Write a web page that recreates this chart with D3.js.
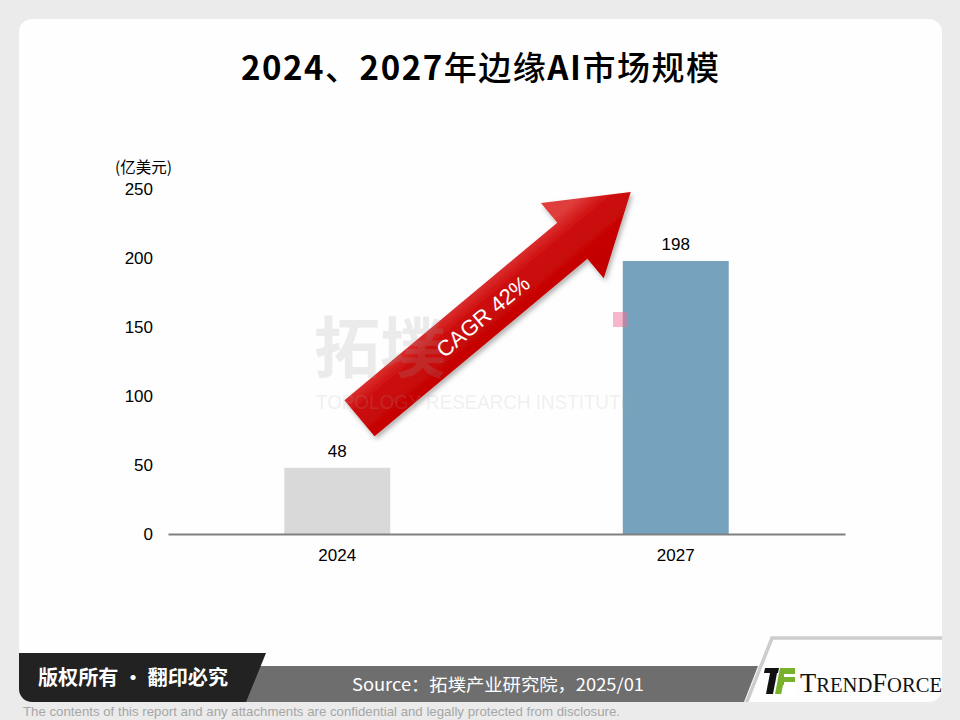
<!DOCTYPE html>
<html>
<head>
<meta charset="utf-8">
<script src="https://cdn.jsdelivr.net/npm/d3@7/dist/d3.min.js"></script>
<style>
  html, body { margin: 0; padding: 0; background: #ebebeb; }
  svg { display: block; }
</style>
</head>
<body>
<svg id="chart" width="960" height="720"></svg>
<script>
// ---- data ----
const years = ["2024", "2027"];
const marketSize = [48, 198];          // 亿美元
const barColors = ["#d9d9d9", "#76a2bd"];
const yTicks = [0, 50, 100, 150, 200, 250];
const unitLabel = "(亿美元)";
const cagrLabel = "CAGR 42%";
const titleParts = [
  { t: "2024", latin: true }, { t: "、", latin: false },
  { t: "2027", latin: true }, { t: "年边缘", latin: false },
  { t: "AI", latin: true }, { t: "市场规模", latin: false }
];
const copyrightText = "版权所有 · 翻印必究";
const sourceText = "Source：拓墣产业研究院，2025/01";
const disclaimer = "The contents of this report and any attachments are confidential and legally protected from disclosure.";

const svg = d3.select("#chart");
const W = 960, H = 720;
const SANS = "'Liberation Sans', Arial, sans-serif";
const CJK = "'Noto Sans CJK SC', 'Noto Sans', sans-serif";

const defs = svg.append("defs");

// card
const card = { x: 19, y: 19, w: 923, h: 683, r: 13 };
svg.append("rect").attr("width", W).attr("height", H).attr("fill", "#ebebeb");
defs.append("clipPath").attr("id", "cardClip")
  .append("rect").attr("x", card.x).attr("y", card.y)
  .attr("width", card.w).attr("height", card.h).attr("rx", card.r);
svg.append("rect").attr("x", card.x).attr("y", card.y)
  .attr("width", card.w).attr("height", card.h).attr("rx", card.r)
  .attr("fill", "#fefefe");

// title
const title = svg.append("text")
  .attr("x", 480).attr("y", 80)
  .attr("text-anchor", "middle")
  .attr("font-family", CJK)
  .attr("font-size", 33)
  .attr("fill", "#000")
  .attr("textLength", 478).attr("lengthAdjust", "spacing");
title.selectAll("tspan").data(titleParts).join("tspan")
  .attr("font-weight", d => d.latin ? 700 : 500)
  .text(d => d.t);

// scales
const x = d3.scaleBand().domain(years).range([168, 845])
  .paddingInner(0.687).paddingOuter(0.687 / 2);
const y = d3.scaleLinear().domain([0, 250]).range([534, 189.3]);

// bars
const g = svg.append("g");
g.selectAll("rect.bar").data(years).join("rect")
  .attr("class", "bar")
  .attr("x", d => x(d))
  .attr("width", x.bandwidth())
  .attr("y", (d, i) => y(marketSize[i]))
  .attr("height", (d, i) => y(0) - y(marketSize[i]))
  .attr("fill", (d, i) => barColors[i]);

// value labels
g.selectAll("text.val").data(years).join("text")
  .attr("class", "val")
  .attr("x", d => x(d) + x.bandwidth() / 2)
  .attr("y", (d, i) => y(marketSize[i]) - 11)
  .attr("text-anchor", "middle")
  .attr("font-family", SANS).attr("font-size", 17).attr("fill", "#000")
  .text((d, i) => marketSize[i]);

// y axis (labels only)
const yAxis = d3.axisLeft(y).tickValues(yTicks).tickSize(0).tickPadding(0);
const yg = svg.append("g").attr("transform", "translate(153,0)").call(yAxis);
yg.select(".domain").remove();
yg.selectAll("text").attr("font-family", SANS).attr("font-size", 17).attr("fill", "#000");

svg.append("text").attr("x", 115).attr("y", 173)
  .attr("font-family", CJK).attr("font-size", 15.5).attr("fill", "#000")
  .text(unitLabel);

// x axis
const xAxis = d3.axisBottom(x).tickSize(0).tickPadding(15);
const xg = svg.append("g").attr("transform", `translate(0,${y(0)})`).call(xAxis);
xg.select(".domain").attr("stroke", "#808080").attr("stroke-width", 2);
xg.selectAll("text").attr("font-family", SANS).attr("font-size", 17).attr("fill", "#000");

// ---- CAGR arrow ----
const tail = [x("2024") + x.bandwidth() * 0.71, y(84)];
const tip = [x("2027") + x.bandwidth() * 0.075, y(248)];
const dx = tip[0] - tail[0], dy = tip[1] - tail[1];
const len = Math.hypot(dx, dy);
const u = [dx / len, dy / len];
const n = [-u[1], u[0]];
const shaftHalf = 23.5, headHalf = 49, headLen = 76;
const at = (t, s) => [tail[0] + u[0] * t + n[0] * s, tail[1] + u[1] * t + n[1] * s];
const arrowPts = [
  at(0, -shaftHalf), at(len - headLen, -shaftHalf), at(len - headLen, -headHalf),
  at(len, 0),
  at(len - headLen, headHalf), at(len - headLen, shaftHalf), at(0, shaftHalf)
];
// n points toward the lower-right edge; gradient runs across the shaft
const gA = at(len / 2, -headHalf), gB = at(len / 2, headHalf);
const grad = defs.append("linearGradient").attr("id", "arrowGrad")
  .attr("gradientUnits", "userSpaceOnUse")
  .attr("x1", gA[0]).attr("y1", gA[1]).attr("x2", gB[0]).attr("y2", gB[1]);
grad.append("stop").attr("offset", 0.2).attr("stop-color", "#e03c3c");
grad.append("stop").attr("offset", 0.42).attr("stop-color", "#cc0a0a");
grad.append("stop").attr("offset", 1).attr("stop-color", "#bf0000");
const shadow = defs.append("filter").attr("id", "arrowShadow")
  .attr("x", "-20%").attr("y", "-20%").attr("width", "140%").attr("height", "140%");
shadow.append("feDropShadow").attr("dx", 2).attr("dy", 3)
  .attr("stdDeviation", 2.5).attr("flood-color", "#000").attr("flood-opacity", 0.3);

svg.append("polygon")
  .attr("points", arrowPts.map(p => p.join(",")).join(" "))
  .attr("fill", "url(#arrowGrad)")
  .attr("filter", "url(#arrowShadow)");
const lblPos = at(160, 1);
const ang = Math.atan2(dy, dx) * 180 / Math.PI;
svg.append("text")
  .attr("transform", `translate(${lblPos[0]},${lblPos[1]}) rotate(${ang})`)
  .attr("text-anchor", "middle").attr("dominant-baseline", "central")
  .attr("font-family", SANS).attr("font-size", 22).attr("fill", "#fff")
  .text(cagrLabel);

// ---- watermark ----
const wm = svg.append("g").attr("pointer-events", "none");
wm.append("text").attr("x", 314).attr("y", 372)
  .attr("font-family", CJK).attr("font-weight", 700).attr("font-size", 66)
  .attr("fill", "#9c9c9c").attr("opacity", 0.19)
  .text("拓墣");
wm.append("text").attr("x", 316).attr("y", 409)
  .attr("font-family", SANS).attr("font-size", 21)
  .attr("textLength", 317).attr("lengthAdjust", "spacingAndGlyphs")
  .attr("fill", "#a8a8a8").attr("opacity", 0.16)
  .text("TOPOLOGY RESEARCH INSTITUTE");
wm.append("rect").attr("x", 613).attr("y", 312).attr("width", 15).attr("height", 15)
  .attr("fill", "#f06d96").attr("opacity", 0.5);

// ---- footer ----
const foot = svg.append("g").attr("clip-path", "url(#cardClip)");
const poly = pts => pts.map(p => p.join(",")).join(" ");
// grey source band
foot.append("polygon")
  .attr("points", poly([[200, 666], [758, 666], [744, 702], [200, 702]]))
  .attr("fill", "#6e6e6e");
// dark copyright band
foot.append("polygon")
  .attr("points", poly([[card.x, 653], [266, 653], [246, 702], [card.x, 702]]))
  .attr("fill", "#222222");
// logo panel border
foot.append("polyline")
  .attr("points", poly([[746, 704], [772, 638], [945, 638]]))
  .attr("fill", "none").attr("stroke", "#cdcdcd").attr("stroke-width", 3.5);

foot.append("text").attr("x", 38).attr("y", 685)
  .attr("font-family", CJK).attr("font-weight", 700).attr("font-size", 20)
  .attr("textLength", 190).attr("lengthAdjust", "spacingAndGlyphs")
  .attr("fill", "#fff").text(copyrightText);
foot.append("text").attr("x", 352).attr("y", 691)
  .attr("font-family", CJK).attr("font-size", 17)
  .attr("textLength", 292).attr("lengthAdjust", "spacingAndGlyphs")
  .attr("fill", "#fff").text(sourceText);

// TrendForce logo mark
const logo = svg.append("g");
logo.append("polygon").attr("points", poly([[765, 668], [779, 668], [778, 673], [764, 673]])).attr("fill", "#111");
logo.append("polygon").attr("points", poly([[770, 673], [777, 673], [773, 694], [766, 694]])).attr("fill", "#111");
logo.append("polygon").attr("points", poly([[780, 668], [795, 668], [795, 694], [775, 694]])).attr("fill", "#77b22a");
logo.append("rect").attr("x", 784).attr("y", 674).attr("width", 12).attr("height", 3).attr("fill", "#fff");
logo.append("rect").attr("x", 784).attr("y", 682).attr("width", 12).attr("height", 3).attr("fill", "#fff");
logo.append("polygon").attr("points", poly([[783, 685], [796, 685], [796, 695], [781, 695]])).attr("fill", "#fff");

const tf = logo.append("text").attr("x", 800).attr("y", 692)
  .attr("font-family", "'Liberation Serif', 'DejaVu Serif', serif")
  .attr("fill", "#111")
  .attr("textLength", 142).attr("lengthAdjust", "spacingAndGlyphs");
[["T", 27], ["REND", 21], ["F", 27], ["ORCE", 21]].forEach(([s, fs]) =>
  tf.append("tspan").attr("font-size", fs).text(s));

// disclaimer
svg.append("text").attr("x", 23).attr("y", 716)
  .attr("font-family", "'Liberation Sans Narrow', 'Liberation Sans', sans-serif")
  .attr("font-size", 13.5)
  .attr("textLength", 597).attr("lengthAdjust", "spacingAndGlyphs")
  .attr("fill", "#a6a6a6").text(disclaimer);
</script>
</body>
</html>
